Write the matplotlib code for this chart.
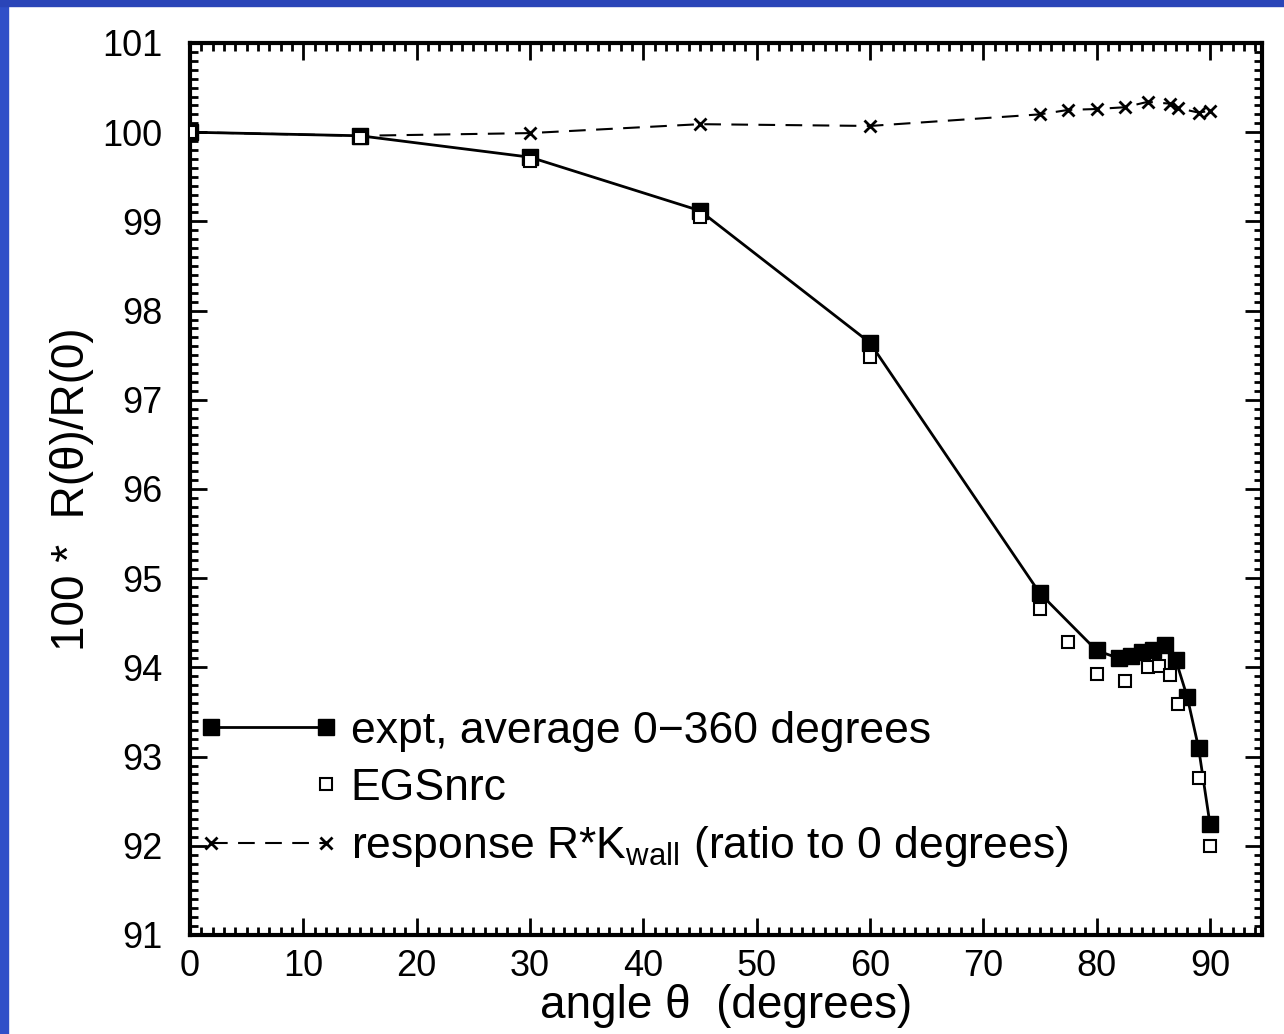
import matplotlib
matplotlib.use("Agg")
import matplotlib.pyplot as plt
from matplotlib.ticker import MultipleLocator
from matplotlib import font_manager as fm
from matplotlib.patches import Rectangle

names = {f.name for f in fm.fontManager.ttflist}
fam = "Liberation Sans Narrow" if "Liberation Sans Narrow" in names else "Liberation Sans"
plt.rcParams['font.family'] = [fam, 'DejaVu Sans']

# expt, average 0-360 degrees
expt_angle = [0, 15, 30, 45, 60, 75, 80, 82, 83, 84, 85, 86, 87, 88, 89, 90]
expt_val = [100.0, 99.96, 99.72, 99.12, 97.64, 94.83, 94.19, 94.10, 94.13, 94.17, 94.20, 94.25, 94.08, 93.67, 93.10, 92.25]

# EGSnrc
egs_angle = [0, 15, 30, 45, 60, 75, 77.5, 80, 82.5, 84.5, 85.5, 86.5, 87.2, 89, 90]
egs_val = [100.0, 99.94, 99.68, 99.05, 97.48, 94.65, 94.28, 93.93, 93.85, 94.00, 94.02, 93.92, 93.59, 92.76, 92.0]

# response R*Kwall
resp_angle = [0, 15, 30, 45, 60, 75, 77.5, 80, 82.5, 84.5, 86.5, 87.2, 89, 90]
resp_val = [100.0, 99.96, 99.99, 100.09, 100.07, 100.20, 100.25, 100.26, 100.28, 100.34, 100.32, 100.27, 100.22, 100.24]

fig = plt.figure(figsize=(12.84, 10.34), dpi=100)
fig.patches.append(Rectangle((0, 0), 8/1284, 1, transform=fig.transFigure, color='#3050c8', zorder=0))
fig.patches.append(Rectangle((0, 1-6/1034), 1, 6/1034, transform=fig.transFigure, color='#2a45b8', zorder=0))

ax = fig.add_axes([190/1284, 1-935/1034, (1262-190)/1284, (935-43)/1034])

ax.plot(expt_angle, expt_val, '-', color='black', lw=2, marker='s', ms=11,
        mfc='black', mec='black', label='expt, average 0\u2212360 degrees', zorder=3)
ax.plot(egs_angle, egs_val, ' ', marker='s', ms=9, mfc='white', mec='black', mew=1.5,
        label='EGSnrc', zorder=4)
ax.plot(resp_angle, resp_val, '--', color='black', lw=1.5, dashes=(8, 5), marker='x', ms=9, mew=2,
        label='response R*K$_{\\mathregular{wall}}$ (ratio to 0 degrees)', zorder=2)

ax.set_xlim(0, 94.6)
ax.set_ylim(91, 101)
ax.xaxis.set_major_locator(MultipleLocator(10))
ax.xaxis.set_minor_locator(MultipleLocator(1))
ax.yaxis.set_major_locator(MultipleLocator(1))
ax.yaxis.set_minor_locator(MultipleLocator(0.1))
ax.tick_params(which='both', direction='in', top=True, right=True, width=2)
ax.tick_params(which='major', length=12, labelsize=26)
ax.tick_params(axis='y', which='major', pad=20)
ax.tick_params(axis='x', which='major', pad=10)
ax.tick_params(which='minor', length=6)
for s in ax.spines.values():
    s.set_linewidth(3)

ax.set_xlabel('angle θ  (degrees)', fontsize=33, labelpad=0)
ax.set_ylabel('100 *  R(θ)/R(0)', fontsize=33, labelpad=6)

leg = ax.legend(loc='lower left', bbox_to_anchor=(-0.022, 0.039), frameon=False, fontsize=32,
                handlelength=3.2, numpoints=2, handletextpad=0.25, labelspacing=0.35,
                borderaxespad=0.3)
hl = leg.legend_handles
hl[1].set_markevery([1])
fig.savefig('out.png', dpi=100)
